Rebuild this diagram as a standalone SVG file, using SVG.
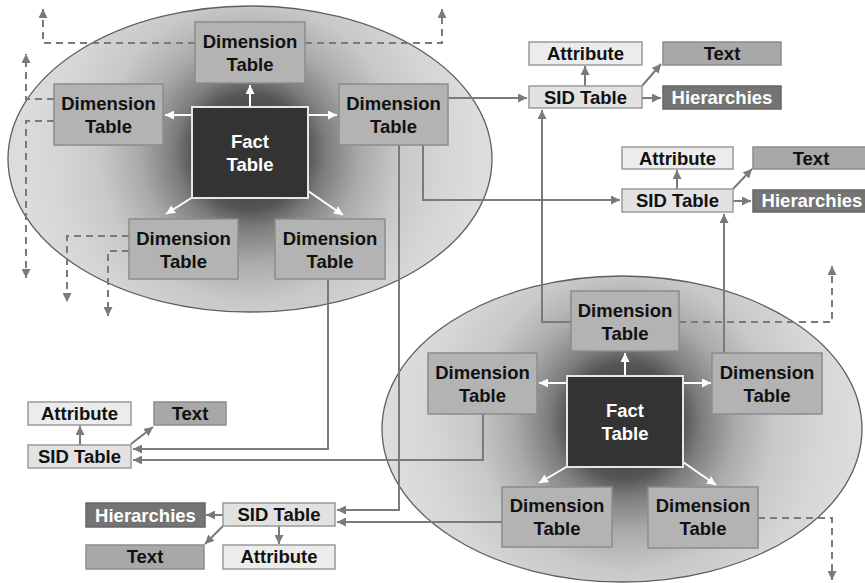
<svg xmlns="http://www.w3.org/2000/svg" width="865" height="583" viewBox="0 0 865 583">
  <style>
    text { font-family: "Liberation Sans", Arial, sans-serif; font-weight: bold; font-size: 18.5px; text-anchor: middle; }
    .dim { fill: #b3b3b3; stroke: #8c8c8c; stroke-width: 1.5; }
    .fact { fill: #333333; stroke: #e6e6e6; stroke-width: 2; }
    .attr { fill: #ececec; stroke: #9a9a9a; stroke-width: 1.5; }
    .sid { fill: #e2e2e2; stroke: #9a9a9a; stroke-width: 1.5; }
    .txt { fill: #a8a8a8; stroke: #8c8c8c; stroke-width: 1.5; }
    .hier { fill: #747474; stroke: #666666; stroke-width: 1.5; }
    .dark { fill: #111111; }
    .light { fill: #ffffff; }
    .cluster { stroke: #5f5f5f; stroke-width: 1.3; }
    .link { fill: none; stroke: #7a7a7a; stroke-width: 2; marker-end: url(#arrow); }
    .dash { fill: none; stroke: #7a7a7a; stroke-width: 2; stroke-dasharray: 7 5; marker-end: url(#arrow); }
    .spoke { fill: none; stroke: #ffffff; stroke-width: 2; marker-end: url(#arrowWhite); }
  </style>
  <defs>
    <radialGradient id="coreA" gradientUnits="userSpaceOnUse" cx="250" cy="152" r="230">
      <stop offset="0" stop-color="#2e2e2e"/>
      <stop offset="0.25" stop-color="#555555"/>
      <stop offset="0.33" stop-color="#7c7c7c"/>
      <stop offset="0.48" stop-color="#aaaaaa"/>
      <stop offset="0.65" stop-color="#c8c8c8"/>
      <stop offset="0.85" stop-color="#d6d6d6"/>
      <stop offset="1" stop-color="#dcdcdc"/>
    </radialGradient>
    <radialGradient id="coreB" gradientUnits="userSpaceOnUse" cx="625" cy="421" r="230">
      <stop offset="0" stop-color="#2e2e2e"/>
      <stop offset="0.25" stop-color="#555555"/>
      <stop offset="0.33" stop-color="#7c7c7c"/>
      <stop offset="0.48" stop-color="#aaaaaa"/>
      <stop offset="0.65" stop-color="#c8c8c8"/>
      <stop offset="0.85" stop-color="#d6d6d6"/>
      <stop offset="1" stop-color="#dcdcdc"/>
    </radialGradient>
    <marker id="arrow" viewBox="0 0 10 10" refX="10" refY="5" markerWidth="9" markerHeight="9" markerUnits="userSpaceOnUse" orient="auto">
      <path d="M0,0 L10,5 L0,10 z" fill="#7a7a7a"/>
    </marker>
    <marker id="arrowWhite" viewBox="0 0 10 10" refX="10" refY="5" markerWidth="9" markerHeight="9" markerUnits="userSpaceOnUse" orient="auto">
      <path d="M0,0 L10,5 L0,10 z" fill="#ffffff"/>
    </marker>
  </defs>

  <!-- star-schema clusters -->
  <ellipse id="clusterA" class="cluster" cx="250" cy="159" rx="242" ry="153" fill="url(#coreA)"/>
  <ellipse id="clusterB" class="cluster" cx="622" cy="429" rx="240" ry="153" fill="url(#coreB)"/>

  <!-- fact-to-dimension spokes -->
  <g id="spokes">
    <path class="spoke" d="M250,107 V85"/>
    <path class="spoke" d="M192,115 H165"/>
    <path class="spoke" d="M308,115 H337"/>
    <path class="spoke" d="M193,197 L166,214"/>
    <path class="spoke" d="M308,191 L343,215"/>
    <path class="spoke" d="M625,376 V353"/>
    <path class="spoke" d="M567,383 H539"/>
    <path class="spoke" d="M683,383 H711"/>
    <path class="spoke" d="M568,466 L539,483"/>
    <path class="spoke" d="M683,462 L716,485"/>
  </g>

  <!-- connectors -->
  <g id="connectors">
    <path class="link" d="M448,98 H527"/>
    <path class="link" d="M423,145 V200 H620"/>
    <path class="link" d="M399,145 V510 H337"/>
    <path class="link" d="M328,279 V449 H133"/>
    <path class="link" d="M483,414 V460 H133"/>
    <path class="link" d="M502,522 H337"/>
    <path class="link" d="M571,322 H542 V110"/>
    <path class="link" d="M724,353 V214"/>
    <path class="link" d="M585,86 V66"/>
    <path class="link" d="M642,86 L661,64"/>
    <path class="link" d="M642,98 H661"/>
    <path class="link" d="M677,189 V170"/>
    <path class="link" d="M733,189 L752,169"/>
    <path class="link" d="M733,201 H751"/>
    <path class="link" d="M80,445 V426"/>
    <path class="link" d="M131,444 L153,427"/>
    <path class="link" d="M223,515 H206"/>
    <path class="link" d="M279,526 V544"/>
    <path class="link" d="M223,526 L205,544"/>
    <path class="dash" d="M195,43 H43 V9"/>
    <path class="dash" d="M305,43 H442 V9"/>
    <path class="dash" d="M54,99 H26 V54"/>
    <path class="dash" d="M54,121 H26 V278"/>
    <path class="dash" d="M129,236 H67 V302"/>
    <path class="dash" d="M129,251 H108 V316"/>
    <path class="dash" d="M679,322 H832 V266"/>
    <path class="dash" d="M758,518 H832 V580"/>
  </g>

  <!-- cluster A nodes -->
  <g id="factA"><rect class="fact" x="192" y="107" width="116" height="91"/><text class="light" x="250" y="148">Fact</text><text class="light" x="250" y="171">Table</text></g>
  <g id="dimA1"><rect class="dim" x="195" y="22" width="110" height="61"/><text class="dark" x="250" y="48">Dimension</text><text class="dark" x="250" y="71">Table</text></g>
  <g id="dimA2"><rect class="dim" x="54" y="84" width="109" height="61"/><text class="dark" x="108.5" y="110">Dimension</text><text class="dark" x="108.5" y="133">Table</text></g>
  <g id="dimA3"><rect class="dim" x="339" y="84" width="109" height="61"/><text class="dark" x="393.5" y="110">Dimension</text><text class="dark" x="393.5" y="133">Table</text></g>
  <g id="dimA4"><rect class="dim" x="129" y="219" width="109" height="60"/><text class="dark" x="183.5" y="245">Dimension</text><text class="dark" x="183.5" y="268">Table</text></g>
  <g id="dimA5"><rect class="dim" x="275" y="219" width="110" height="60"/><text class="dark" x="330" y="245">Dimension</text><text class="dark" x="330" y="268">Table</text></g>

  <!-- cluster B nodes -->
  <g id="factB"><rect class="fact" x="567" y="376" width="116" height="91"/><text class="light" x="625" y="417">Fact</text><text class="light" x="625" y="440">Table</text></g>
  <g id="dimB1"><rect class="dim" x="571" y="291" width="108" height="60"/><text class="dark" x="625" y="317">Dimension</text><text class="dark" x="625" y="340">Table</text></g>
  <g id="dimB2"><rect class="dim" x="428" y="353" width="109" height="61"/><text class="dark" x="482.5" y="379">Dimension</text><text class="dark" x="482.5" y="402">Table</text></g>
  <g id="dimB3"><rect class="dim" x="712" y="353" width="110" height="61"/><text class="dark" x="767" y="379">Dimension</text><text class="dark" x="767" y="402">Table</text></g>
  <g id="dimB4"><rect class="dim" x="502" y="487" width="110" height="60"/><text class="dark" x="557" y="512">Dimension</text><text class="dark" x="557" y="535">Table</text></g>
  <g id="dimB5"><rect class="dim" x="648" y="487" width="110" height="61"/><text class="dark" x="703" y="512">Dimension</text><text class="dark" x="703" y="535">Table</text></g>

  <!-- SID group 1 -->
  <g id="attr1"><rect class="attr" x="529" y="42" width="113" height="23"/><text class="dark" x="585.5" y="60">Attribute</text></g>
  <g id="text1"><rect class="txt" x="663" y="42" width="118" height="23"/><text class="dark" x="722" y="60">Text</text></g>
  <g id="sid1"><rect class="sid" x="529" y="86" width="113" height="22"/><text class="dark" x="585.5" y="103.5">SID Table</text></g>
  <g id="hier1"><rect class="hier" x="663" y="86" width="118" height="23"/><text class="light" x="722" y="104">Hierarchies</text></g>

  <!-- SID group 2 -->
  <g id="attr2"><rect class="attr" x="622" y="147" width="111" height="22"/><text class="dark" x="677.5" y="164.5">Attribute</text></g>
  <g id="text2"><rect class="txt" x="753" y="147" width="113" height="22"/><text class="dark" x="811" y="164.5">Text</text></g>
  <g id="sid2"><rect class="sid" x="622" y="189" width="111" height="23"/><text class="dark" x="677.5" y="207">SID Table</text></g>
  <g id="hier2"><rect class="hier" x="753" y="190" width="116" height="22"/><text class="light" x="812" y="207">Hierarchies</text></g>

  <!-- SID group 3 -->
  <g id="attr3"><rect class="attr" x="28" y="402" width="103" height="23"/><text class="dark" x="79.5" y="420">Attribute</text></g>
  <g id="text3"><rect class="txt" x="154" y="402" width="72" height="23"/><text class="dark" x="190" y="420">Text</text></g>
  <g id="sid3"><rect class="sid" x="28" y="445" width="103" height="23"/><text class="dark" x="79.5" y="463">SID Table</text></g>

  <!-- SID group 4 -->
  <g id="hier4"><rect class="hier" x="86" y="503" width="119" height="24"/><text class="light" x="145.5" y="521.5">Hierarchies</text></g>
  <g id="sid4"><rect class="sid" x="223" y="503" width="112" height="23"/><text class="dark" x="279" y="521">SID Table</text></g>
  <g id="text4"><rect class="txt" x="86" y="545" width="118" height="24"/><text class="dark" x="145" y="563">Text</text></g>
  <g id="attr4"><rect class="attr" x="223" y="545" width="112" height="24"/><text class="dark" x="279" y="563">Attribute</text></g>
</svg>
